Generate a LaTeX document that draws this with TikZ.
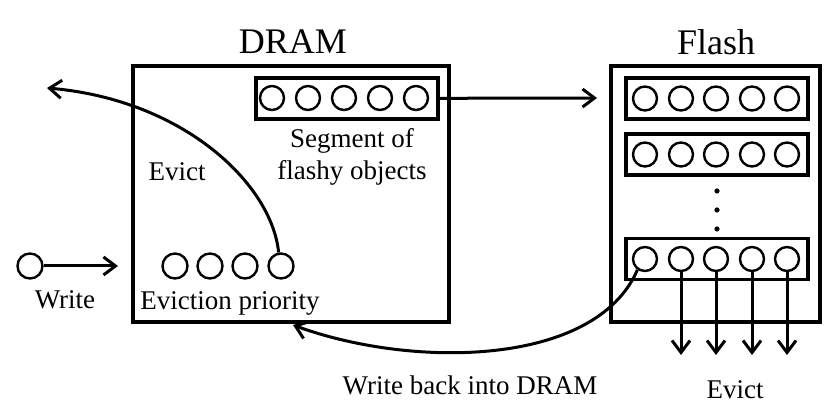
\documentclass[tikz,border=0pt]{standalone}
\usepackage{fontspec}
\setmainfont{Liberation Serif}
\usetikzlibrary{arrows.meta, positioning}

\begin{document}
\begin{tikzpicture}[x=0.5pt, y=-0.5pt, >={Straight Barb[length=6pt, width=9pt]},
		box/.style={rectangle, draw=black, line width=1.6pt, inner sep=0pt},
		seg/.style={rectangle, draw=black, line width=1.6pt, minimum width=91pt, minimum height=20.5pt, inner sep=0pt},
		obj/.style={circle, draw=black, fill=white, line width=1.2pt, minimum size=12pt, inner sep=0pt},
		lbl/.style={font=\fontsize{13.5}{16}\selectfont, align=center},
		title/.style={font=\fontsize{18}{20}\selectfont}]

		\useasboundingbox (0,0) rectangle (830,415);

		% Titles
		\node[title] (dramtitle) at (293, 42) {DRAM};
		\node[title] (flashtitle) at (716, 42) {Flash};

		% DRAM
		\node[box, minimum width=158pt, minimum height=128pt] (dram) at (291, 194) {};
		\node[seg] (dseg) at (347, 98.5) {};
		\foreach \i/\x in {1/272, 2/308, 3/344, 4/380, 5/416}
			\node[obj] (d\i) at (\x, 98) {};
		\node[lbl] (seglbl) at (352, 157) {Segment of\\flashy objects};
		\node[lbl] (evictl) at (177, 172) {Evict};
		\foreach \i/\x in {1/175, 2/210, 3/245, 4/281}
			\node[obj, minimum size=12.5pt] (ev\i) at (\x, 266) {};
		\node[lbl] (prio) at (230, 303) {Eviction priority};

		% Write
		\node[obj, minimum size=12.5pt] (wr) at (30, 266) {};
		\node[lbl] (wrlbl) at (65, 300) {Write};
		\coordinate (wrend) at (118, 266);

		% Flash
		\node[box, minimum width=104.5pt, minimum height=128pt] (flash) at (715.5, 194) {};
		\foreach \r/\y in {1/98.5, 2/154.5, 3/259} {
			\node[seg] (fs\r) at (717, \y) {};
			\foreach \i/\x in {1/645, 2/681, 3/716, 4/752, 5/787}
				\node[obj] (f\r\i) at (\x, \y) {};
		}
		\foreach \y in {191, 210, 229}
			\fill (717, \y) circle (1.3pt);
		\coordinate (flin) at (597, 98);

		% Evict from Flash
		\foreach \i in {2,3,4,5}
			\coordinate (out\i) at ([yshift=-48pt]f3\i.center);
		\node[lbl] (evictr) at (735, 390) {Evict};

		% Write back
		\coordinate (wbend) at (293, 325);
		\node[lbl] (wblbl) at (470, 385) {Write back into DRAM};

		% Evict from DRAM
		\coordinate (evend) at (47, 88);

		% Arrows
		\draw[->, line width=1.5pt] (wr) -- (wrend);
		\draw[->, line width=1.5pt] (dseg) -- (flin);
		\draw[->, line width=1.5pt] (ev4.100) .. controls (272, 185) and (185, 100) .. (evend);
		\draw[->, line width=1.5pt] (f31.235) .. controls (595, 368) and (410, 368) .. (wbend);
		\foreach \i in {2,3,4,5}
			\draw[->, line width=1.5pt] (f3\i) -- (out\i);

	\end{tikzpicture}
\end{document}
